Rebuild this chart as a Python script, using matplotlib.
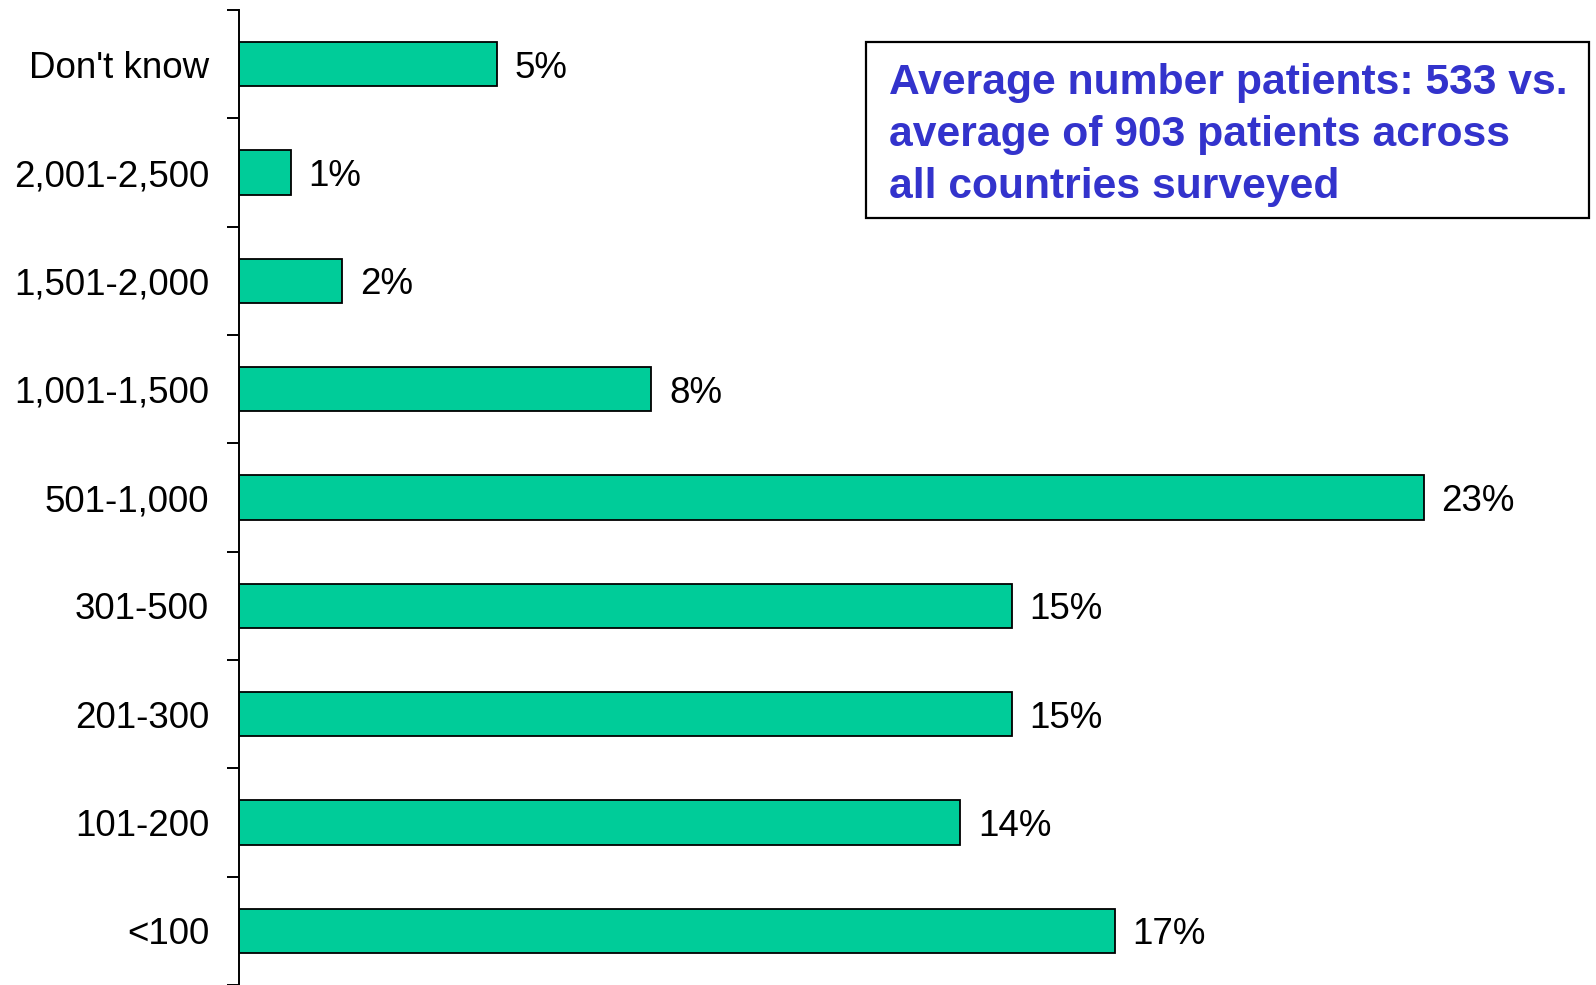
import matplotlib.pyplot as plt
from matplotlib.patches import Rectangle

plt.rcParams['font.family'] = ['Liberation Sans', 'DejaVu Sans']

categories = ["Don't know", "2,001-2,500", "1,501-2,000", "1,001-1,500",
              "501-1,000", "301-500", "201-300", "101-200", "<100"]
shares = [5, 1, 2, 8, 23, 15, 15, 14, 17]
note = ("Average number patients: 533 vs.\n"
        "average of 903 patients across\n"
        "all countries surveyed")

fig = plt.figure(figsize=(15.96, 9.85), dpi=100)
ax = fig.add_axes([239 / 1596, 0.0, 1339 / 1596, 1 - 10 / 985])

pos = list(range(len(categories)))
ax.barh(pos, shares, height=0.41, color='#00CC99', edgecolor='black', linewidth=1.3)
for p, v in zip(pos, shares):
    ax.text(v + 0.35, p, f"{v}%", va='center_baseline', ha='left', fontsize=26.5)

ax.set_xlim(0, 26)
ax.set_ylim(8.5, -0.5)

ax.set_yticks(pos)
ax.set_yticklabels(categories, fontsize=26.5, va='center_baseline')
ax.set_yticks([p - 0.5 for p in pos] + [8.5], minor=True)
ax.tick_params(axis='y', which='major', length=0, pad=21.5)
ax.tick_params(axis='y', which='minor', length=9, width=1.4, direction='out')
ax.set_xticks([])

for side in ['top', 'right', 'bottom']:
    ax.spines[side].set_visible(False)
ax.spines['left'].set_linewidth(1.4)

# annotation box in the upper right
fig.patches.append(Rectangle((866 / 1596, 1 - 218 / 985), (1589 - 866) / 1596, (218 - 42) / 985,
                             transform=fig.transFigure, fill=False, edgecolor='black',
                             linewidth=1.6))
fig.text(889 / 1596, 1 - 63 / 985, note, ha='left', va='top', fontsize=30.7,
         fontweight='bold', color='#3333CC', linespacing=1.38)

fig.savefig('out.png', dpi=100)
